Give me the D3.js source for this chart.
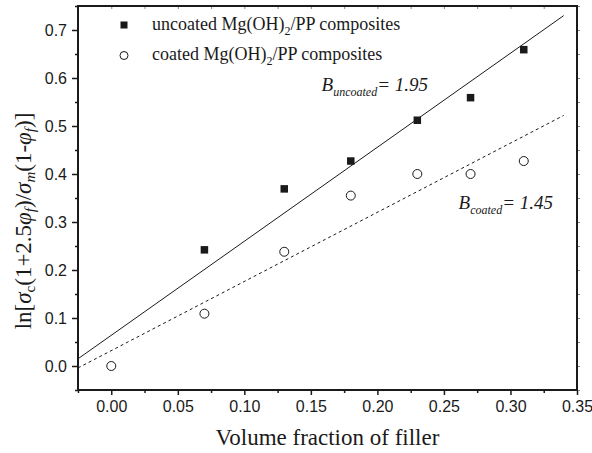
<!DOCTYPE html>
<html><head><meta charset="utf-8">
<script src="https://cdn.jsdelivr.net/npm/d3@7"></script>
<style>body{margin:0;background:#fff}svg{display:block}</style>
</head><body>
<svg id="chart" width="592" height="453"></svg>
<script>
// ---- data ----
const uncoatedX = [0.07, 0.13, 0.18, 0.23, 0.27, 0.31];
const uncoatedY = [0.242, 0.369, 0.427, 0.512, 0.559, 0.659];
const coatedX = [0.00, 0.07, 0.13, 0.18, 0.23, 0.27, 0.31];
const coatedY = [0.000, 0.109, 0.238, 0.355, 0.400, 0.400, 0.427];
const fitX = [-0.025, 0.34];
const uncoatedFit = [0.015, 0.730];
const coatedFit = [-0.004, 0.522];
const xTicks = [0.00, 0.05, 0.10, 0.15, 0.20, 0.25, 0.30, 0.35];
const xMinor = [-0.025, 0.025, 0.075, 0.125, 0.175, 0.225, 0.275, 0.325];
const yTicks = [0.0, 0.1, 0.2, 0.3, 0.4, 0.5, 0.6, 0.7];
const yMinor = [-0.05, 0.05, 0.15, 0.25, 0.35, 0.45, 0.55, 0.65, 0.75];
const legendLabels = ["uncoated Mg(OH)", "coated Mg(OH)"];
const annUncoated = {sub: "uncoated", val: "= 1.95"};
const annCoated = {sub: "coated", val: "= 1.45"};

const svg = d3.select("#chart");
const L = 78, R = 577, T = 6, B = 390;
const x = d3.scaleLinear().domain([-0.025, 0.35]).range([L, R]);
const y = d3.scaleLinear().domain([-0.05, 0.75]).range([B, T]);
const ink = "#1a1a1a";
const sans = "'Liberation Sans', Arial, sans-serif";
const serif = "'Liberation Serif', 'Times New Roman', serif";

// axes
const gx = svg.append("g").attr("transform", `translate(0,${B})`)
  .call(d3.axisBottom(x).tickValues(xTicks).tickFormat(d3.format(".2f")).tickSize(5).tickPadding(6));
const gxm = svg.append("g").attr("transform", `translate(0,${B})`)
  .call(d3.axisBottom(x).tickValues(xMinor).tickFormat("").tickSize(3));
const gy = svg.append("g").attr("transform", `translate(${L},0)`)
  .call(d3.axisLeft(y).tickValues(yTicks).tickFormat(d3.format(".1f")).tickSize(6).tickPadding(5));
const gym = svg.append("g").attr("transform", `translate(${L},0)`)
  .call(d3.axisLeft(y).tickValues(yMinor).tickFormat("").tickSize(3));
const gr = svg.append("g").attr("transform", `translate(${R},0)`)
  .call(d3.axisLeft(y).tickValues(yTicks.concat(yMinor)).tickFormat("").tickSize(-3));
const gt = svg.append("g").attr("transform", `translate(0,${T})`)
  .call(d3.axisTop(x).tickValues(xTicks.concat(xMinor)).tickFormat("").tickSize(-3));
[gx, gxm, gy, gym].forEach(g => {
  g.select(".domain").remove();
  g.selectAll("line").attr("stroke", ink).attr("stroke-width", 1.5);
  g.selectAll("text").attr("font-family", sans).attr("font-size", 16).attr("fill", ink);
});
[gr, gt].forEach(g => {
  g.select(".domain").remove();
  g.selectAll("line").attr("stroke", "#888").attr("stroke-width", 1);
});
// frame
svg.append("rect").attr("x", L).attr("y", T).attr("width", R - L).attr("height", B - T)
  .attr("fill", "none").attr("stroke", ink).attr("stroke-width", 2);

// fit lines
const line = d3.line().x(d => x(d[0])).y(d => y(d[1]));
svg.append("path").datum(fitX.map((v, i) => [v, uncoatedFit[i]]))
  .attr("d", line).attr("fill", "none").attr("stroke", ink).attr("stroke-width", 1);
svg.append("path").datum(fitX.map((v, i) => [v, coatedFit[i]]))
  .attr("d", line).attr("fill", "none").attr("stroke", ink).attr("stroke-width", 1)
  .attr("stroke-dasharray", "3,3");

// points
const sq = 7.5;
svg.append("g").selectAll("rect").data(uncoatedX.map((v, i) => [v, uncoatedY[i]])).join("rect")
  .attr("x", d => x(d[0]) - sq / 2).attr("y", d => y(d[1]) - sq / 2)
  .attr("width", sq).attr("height", sq).attr("fill", ink);
svg.append("g").selectAll("circle").data(coatedX.map((v, i) => [v, coatedY[i]])).join("circle")
  .attr("cx", d => x(d[0])).attr("cy", d => y(d[1])).attr("r", 4.5)
  .attr("fill", "#fff").attr("stroke", ink).attr("stroke-width", 1);

// legend
svg.append("rect").attr("x", 124 - 3.5).attr("y", 25 - 3.5).attr("width", 7).attr("height", 7).attr("fill", ink);
svg.append("circle").attr("cx", 124).attr("cy", 55.5).attr("r", 4).attr("fill", "#fff").attr("stroke", ink);
[30, 60].forEach((by, i) => {
  const t = svg.append("text").attr("x", 152).attr("y", by)
    .attr("font-family", serif).attr("font-size", 18).attr("fill", ink);
  t.append("tspan").text(legendLabels[i]);
  t.append("tspan").attr("font-size", 12).attr("dy", 5).text("2");
  t.append("tspan").attr("dy", -5).text("/PP composites");
});

// annotations
function ann(a, xr, by) {
  const t = svg.append("text").attr("x", xr).attr("y", by).attr("text-anchor", "end")
    .attr("font-family", serif).attr("font-style", "italic").attr("font-size", 19).attr("fill", ink);
  t.append("tspan").text("B");
  t.append("tspan").attr("font-size", 12).attr("dy", 5).text(a.sub);
  t.append("tspan").attr("dy", -5).text(a.val);
}
ann(annUncoated, 428, 91);
ann(annCoated, 553, 209);

// axis titles
svg.append("text").attr("x", (L + R) / 2).attr("y", 445).attr("text-anchor", "middle")
  .attr("font-family", serif).attr("font-size", 23).attr("fill", ink).text("Volume fraction of filler");
const yt = svg.append("text").attr("transform", "translate(31,221) rotate(-90)").attr("text-anchor", "middle")
  .attr("font-family", serif).attr("font-size", 23).attr("fill", ink);
yt.append("tspan").text("ln[");
yt.append("tspan").attr("font-style", "italic").text("σ");
yt.append("tspan").attr("font-size", 15).attr("dy", 4).text("c");
yt.append("tspan").attr("dy", -4).text("(1+2.5");
yt.append("tspan").attr("font-style", "italic").text("φ");
yt.append("tspan").attr("font-style", "italic").attr("font-size", 15).attr("dy", 4).text("f");
yt.append("tspan").attr("dy", -4).text(")/");
yt.append("tspan").attr("font-style", "italic").text("σ");
yt.append("tspan").attr("font-style", "italic").attr("font-size", 15).attr("dy", 4).text("m");
yt.append("tspan").attr("dy", -4).text("(1-");
yt.append("tspan").attr("font-style", "italic").text("φ");
yt.append("tspan").attr("font-style", "italic").attr("font-size", 15).attr("dy", 4).text("f");
yt.append("tspan").attr("dy", -4).text(")]");
</script>
</body></html>
